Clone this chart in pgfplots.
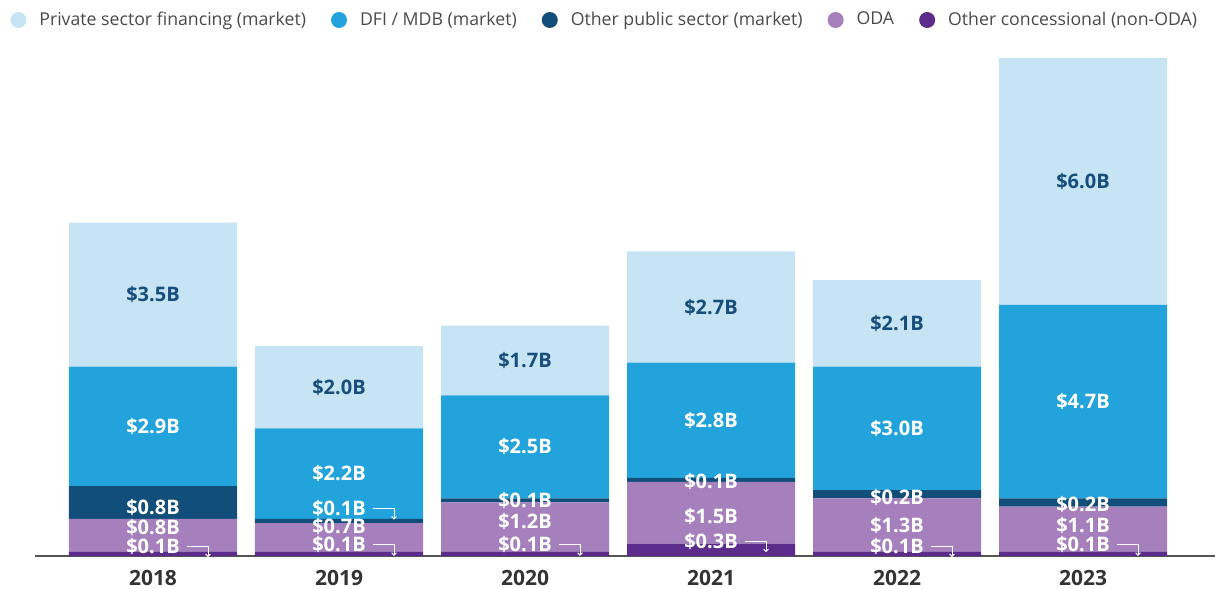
\documentclass[border=0pt]{standalone}
\usepackage{pgfplots}
\pgfplotsset{compat=1.18}
\usepackage{pgfplotstable}
\usepackage{fontspec}
\setmainfont{Open Sans}
\usetikzlibrary{arrows.meta}
\definecolor{cpriv}{HTML}{C6E4F4}
\definecolor{cdfi}{HTML}{22A3DB}
\definecolor{cop}{HTML}{114E7A}
\definecolor{coda}{HTML}{A680BC}
\definecolor{ccc}{HTML}{5B2C8C}
\definecolor{privtext}{HTML}{174E7C}
\definecolor{leggray}{HTML}{4A4A4A}
\definecolor{axgray}{HTML}{555555}
\definecolor{yeargray}{HTML}{333333}

\pgfplotstableread{
x cc oda op dfi priv
0 0.1 0.8 0.8 2.9 3.5
1 0.1 0.7 0.1 2.2 2.0
2 0.1 1.2 0.1 2.5 1.7
3 0.3 1.5 0.1 2.8 2.7
4 0.1 1.3 0.2 3.0 2.1
5 0.1 1.1 0.2 4.7 6.0
}\data

\pgfplotsset{
  lgc/.style={legend image code/.code={\fill[##1] (0pt,0pt) circle (4pt);}},
  geom/.style={scale only axis, width=590pt, height=249pt,
    xmin=-0.6344, xmax=5.7097, ymin=0, ymax=12.1, clip=false},
}
\tikzset{
  lab/.style={font=\fontsize{10}{12}\selectfont\bfseries, text=white, inner sep=0pt, anchor=center},
}
\newcommand{\arr}[3]{%
  \node[lab] at (axis cs:#1,#2) {#3};
  \draw[white, line width=0.5pt, -{Straight Barb[length=1.2pt,width=2.4pt]}]
    ([xshift=17pt]axis cs:#1,#2) -- ([xshift=27.5pt]axis cs:#1,#2) -- ([xshift=27.5pt,yshift=-5.5pt]axis cs:#1,#2);
}

\begin{document}
\begin{tikzpicture}
\begin{axis}[
  name=ax,
  geom,
  ybar stacked,
  bar width=84pt,
  axis x line*=bottom,
  axis y line=none,
  x axis line style={draw=axgray, line width=1.2pt, -},
  xtick={0,1,2,3,4,5},
  xticklabels={2018,2019,2020,2021,2022,2023},
  major tick length=0pt,
  xtick style={draw=none},
  xticklabel style={font=\fontsize{10.5}{12}\selectfont\bfseries, text=yeargray, anchor=base, yshift=-14.5pt},
  legend columns=5,
  reverse legend,
  legend style={
    at={(-0.0212,1.0763)}, anchor=west,
    draw=none, fill=none, inner sep=0pt,
    font=\fontsize{8.85}{10.6}\selectfont, text=leggray,
    nodes={inner sep=0pt},
    /tikz/every odd column/.append style={column sep=6.5pt},
    /tikz/every even column/.append style={column sep=12.5pt},
  },
]
\addplot[fill=ccc, draw=none, lgc] table[x=x, y=cc] {\data};
\addlegendentry{Other concessional (non-ODA)}
\addplot[fill=coda, draw=none, lgc] table[x=x, y=oda] {\data};
\addlegendentry{ODA}
\addplot[fill=cop, draw=none, lgc] table[x=x, y=op] {\data};
\addlegendentry{Other public sector (market)}
\addplot[fill=cdfi, draw=none, lgc] table[x=x, y=dfi] {\data};
\addlegendentry{DFI / MDB (market)}
\addplot[fill=cpriv, draw=none, lgc] table[x=x, y=priv] {\data};
\addlegendentry{Private sector financing (market)}
\end{axis}

\begin{axis}[geom, hide axis, at={(ax.south west)}, anchor=south west]
% Private labels
\node[lab, text=privtext] at (axis cs:0,6.35) {\$3.5B};
\node[lab, text=privtext] at (axis cs:1,4.1) {\$2.0B};
\node[lab, text=privtext] at (axis cs:2,4.75) {\$1.7B};
\node[lab, text=privtext] at (axis cs:3,6.05) {\$2.7B};
\node[lab, text=privtext] at (axis cs:4,5.65) {\$2.1B};
\node[lab, text=privtext] at (axis cs:5,9.1) {\$6.0B};
% DFI labels
\node[lab] at (axis cs:0,3.15) {\$2.9B};
\node[lab] at (axis cs:1,2.0) {\$2.2B};
\node[lab] at (axis cs:2,2.65) {\$2.5B};
\node[lab] at (axis cs:3,3.3) {\$2.8B};
\node[lab] at (axis cs:4,3.1) {\$3.0B};
\node[lab] at (axis cs:5,3.75) {\$4.7B};
% Other public labels
\node[lab] at (axis cs:0,1.19) {\$0.8B};
\arr{1}{1.15}{\$0.1B}
\node[lab] at (axis cs:2,1.34) {\$0.1B};
\node[lab] at (axis cs:3,1.82) {\$0.1B};
\node[lab] at (axis cs:4,1.43) {\$0.2B};
\node[lab] at (axis cs:5,1.26) {\$0.2B};
% ODA labels
\node[lab] at (axis cs:0,0.70) {\$0.8B};
\node[lab] at (axis cs:1,0.71) {\$0.7B};
\node[lab] at (axis cs:2,0.83) {\$1.2B};
\node[lab] at (axis cs:3,0.95) {\$1.5B};
\node[lab] at (axis cs:4,0.73) {\$1.3B};
\node[lab] at (axis cs:5,0.73) {\$1.1B};
% Other concessional labels
\arr{0}{0.24}{\$0.1B}
\arr{1}{0.27}{\$0.1B}
\arr{2}{0.27}{\$0.1B}
\arr{3}{0.36}{\$0.3B}
\arr{4}{0.24}{\$0.1B}
\arr{5}{0.27}{\$0.1B}
\end{axis}
\pgfresetboundingbox
\useasboundingbox (ax.south west) ++(-17.5pt,-16pt) rectangle ++(609pt,294pt);
\end{tikzpicture}
\end{document}
